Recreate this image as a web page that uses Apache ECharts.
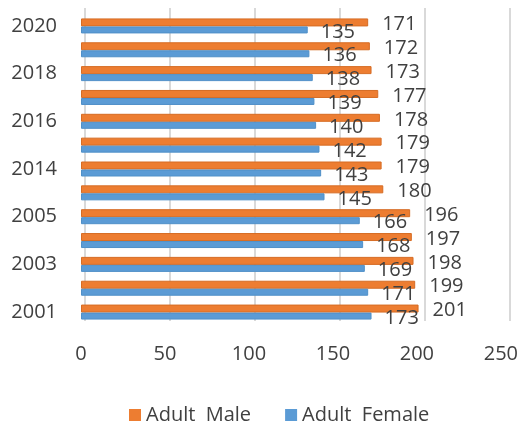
<!DOCTYPE html>
<html>
<head>
<meta charset="utf-8">
<script src="https://cdn.jsdelivr.net/npm/echarts@6/dist/echarts.min.js"></script>
<style>
  html, body { margin: 0; padding: 0; background: #fff; }
  #chart { width: 521px; height: 423px; }
</style>
</head>
<body>
<div id="chart"></div>
<script>
// Years, bottom to top
const years = ['2001', '2002', '2003', '2004', '2005', '2013', '2014', '2015', '2016', '2017', '2018', '2019', '2020'];
const adultMale = [201, 199, 198, 197, 196, 180, 179, 179, 178, 177, 173, 172, 171];
const adultFemale = [173, 171, 169, 168, 166, 145, 143, 142, 140, 139, 138, 136, 135];
const xTicks = [0, 50, 100, 150, 200, 250];

const FONT = 'Open Sans';
const TXT = '#404040';

const chart = echarts.init(document.getElementById('chart'));
chart.setOption({
  animation: false,
  textStyle: { fontFamily: FONT },
  legend: {
    left: 124, top: 400,
    itemWidth: 12, itemHeight: 12, itemGap: 34,
    icon: 'rect',
    itemStyle: { borderWidth: 0 },
    textStyle: { fontSize: 20, color: TXT, fontFamily: FONT },
    data: ['Adult  Male', 'Adult  Female']
  },
  grid: [
    { left: 81, right: 15, top: 14, bottom: 99 },
    // back wall grid carrying the gridlines, shifted for the depth effect
    { left: 85, right: 11, top: 8, bottom: 102 }
  ],
  xAxis: [
    {
      type: 'value', gridIndex: 0, min: xTicks[0], max: xTicks[xTicks.length - 1], interval: 50,
      splitLine: { show: false }, axisLine: { show: false }, axisTick: { show: false },
      axisLabel: { color: TXT, fontSize: 20, margin: 20 }
    },
    {
      type: 'value', gridIndex: 1, min: 0, max: 250, interval: 50,
      splitLine: { show: true, lineStyle: { color: '#d9d9d9', width: 2 } },
      axisLine: { show: false }, axisTick: { show: false }, axisLabel: { show: false }
    }
  ],
  yAxis: [
    {
      type: 'category', gridIndex: 0, data: years,
      axisLine: { show: false }, axisTick: { show: false },
      axisLabel: { color: TXT, fontSize: 20, margin: 24, interval: 1 }
    },
    {
      type: 'category', gridIndex: 1, data: years, show: false
    }
  ],
  series: [
    {
      name: 'Adult  Male', type: 'bar', xAxisIndex: 0, yAxisIndex: 0,
      data: adultMale, barWidth: 8, barGap: '0%',
      itemStyle: { color: '#ED7D31', borderColor: '#d66c24', borderWidth: 1 },
      label: { show: true, position: 'right', distance: 14, color: TXT, fontSize: 20, offset: [0, 2] }
    },
    {
      name: 'Adult  Female', type: 'bar', xAxisIndex: 0, yAxisIndex: 0,
      data: adultFemale, barWidth: 7, barGap: '0%',
      itemStyle: { color: '#5B9BD5', borderColor: '#5090c8', borderWidth: 1 },
      label: { show: true, position: 'right', distance: 13, color: TXT, fontSize: 20, offset: [0, 2] }
    }
  ]
});
</script>
</body>
</html>
